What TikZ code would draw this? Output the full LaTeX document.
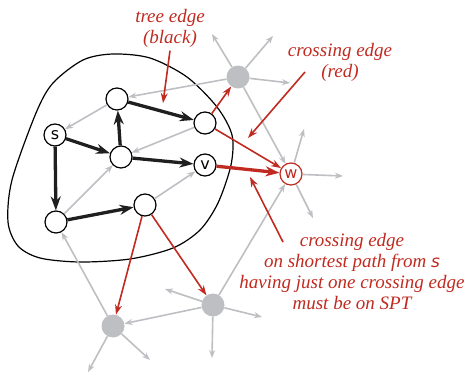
\documentclass[tikz,border=0pt]{standalone}
\usepackage{fontspec}
\usetikzlibrary{arrows.meta}
\newfontfamily\labelfont{DejaVu Sans}
\newfontfamily\notefont{Liberation Serif}
\definecolor{EdgeRed}{RGB}{192, 42, 32}
\definecolor{FaintGray}{RGB}{190, 191, 195}

\begin{document}
\begin{tikzpicture}[
    x=1pt, y=-1pt, % pixel-like units, y pointing down
    >=Stealth,
    vertex/.style={circle, draw=black, fill=white, line width=1.2pt, minimum size=22pt, inner sep=0pt, font=\labelfont\fontsize{16}{16}\selectfont},
    target/.style={vertex, draw=EdgeRed, text=EdgeRed},
    outside/.style={circle, fill=FaintGray, minimum size=23pt, inner sep=0pt},
    grayedge/.style={FaintGray, line width=1.6pt, -{Stealth[length=8pt, width=6pt]}},
    treeedge/.style={black!88, line width=3.3pt, -{Stealth[length=14pt, width=10pt]}},
    crossedge/.style={EdgeRed, line width=1.6pt, -{Stealth[length=10pt, width=7pt]}},
    spedge/.style={EdgeRed, line width=3.3pt, -{Stealth[length=14pt, width=10pt]}},
    note/.style={EdgeRed, font=\notefont\itshape\fontsize{19}{21}\selectfont, align=center}
]
\useasboundingbox (0,0) rectangle (471,375);

% --- The cut: closed curve round the tree vertices ---
\draw[black, line width=1.2pt] plot[smooth cycle] coordinates {
    (113,54) (150,58) (187,77) (217,107) (232,135) (231,165) (218,203)
    (200,230) (173,248) (130,259) (80,262) (40,258) (18,246) (8,222)
    (12,180) (36,113) (53,83) (83,60)};

% --- Vertices inside the cut ---
\node[vertex] (s) at (55,135) {s};
\node[vertex] (a) at (117,99) {};
\node[vertex] (b) at (205,123) {};
\node[vertex] (c) at (121,157) {};
\node[vertex] (v) at (205,165) {v};
\node[vertex] (d) at (56,222) {};
\node[vertex] (e) at (145,205) {};

% --- Vertices outside the cut ---
\node[target] (w) at (291,174) {w};
\node[outside] (g1) at (238,77) {};
\node[outside] (g2) at (213,305) {};
\node[outside] (g3) at (113,326) {};

% --- Free ends of the gray edges ---
\coordinate (g1nw) at (212,34);
\coordinate (g1ne) at (273,36);
\coordinate (g1e) at (290,83);
\coordinate (wne) at (304,129);
\coordinate (we) at (343,176);
\coordinate (wse) at (313,218);
\coordinate (g2w) at (165,289);
\coordinate (g2e) at (262,317);
\coordinate (g2s) at (212,358);
\coordinate (g3sw) at (88,372);
\coordinate (g3se) at (150,360);

% --- Gray (non-tree) edges ---
\draw[grayedge] (g1) -- (a);
\draw[grayedge] (a) -- (s);
\draw[grayedge] (b) -- (c);
\draw[grayedge] (d) -- (c);
\draw[grayedge] (e) -- (v);
\draw[grayedge] (g3) -- (d);
\draw[grayedge] (g2) -- (g3);
\draw[grayedge] (g1) -- (w);
\draw[grayedge] (g2) -- (w);
\foreach \tip in {g1nw, g1ne, g1e} \draw[grayedge] (g1) -- (\tip);
\foreach \tip in {wne, we, wse} \draw[grayedge] (w) -- (\tip);
\foreach \tip in {g2w, g2e, g2s} \draw[grayedge] (g2) -- (\tip);
\foreach \tip in {g3sw, g3se} \draw[grayedge] (g3) -- (\tip);

% --- Tree edges (black) ---
\draw[treeedge] (s) -- (c);
\draw[treeedge] (s) -- (d);
\draw[treeedge] (c) -- (a);
\draw[treeedge] (a) -- (b);
\draw[treeedge] (c) -- (v);
\draw[treeedge] (d) -- (e);

% --- Crossing edges (red) ---
\draw[crossedge] (b) -- (g1);
\draw[crossedge] (b) -- (w);
\draw[crossedge] (e) -- (g3);
\draw[crossedge] (e) -- (g2);
\draw[spedge] (v) -- (w);

% --- Notes ---
\node[note] (treenote) at (170,28) {tree edge\\(black)};
\node[note] (crossnote) at (340,62) {crossing edge\\(red)};
\node[note] (sptnote) at (352,272) {crossing edge\\on shortest path from {\labelfont\fontsize{17}{17}\selectfont s}\\having just one crossing edge\\must be on SPT};

\coordinate (treetip) at (163,103);
\coordinate (crossfrom) at (305,72);
\coordinate (crosstip) at (248,138);
\coordinate (sptfrom) at (283,242);
\coordinate (spttip) at (250,177);

\draw[crossedge] (treenote.south) -- (treetip);
\draw[crossedge] (crossfrom) -- (crosstip);
\draw[crossedge] (sptfrom) -- (spttip);

\end{tikzpicture}
\end{document}
